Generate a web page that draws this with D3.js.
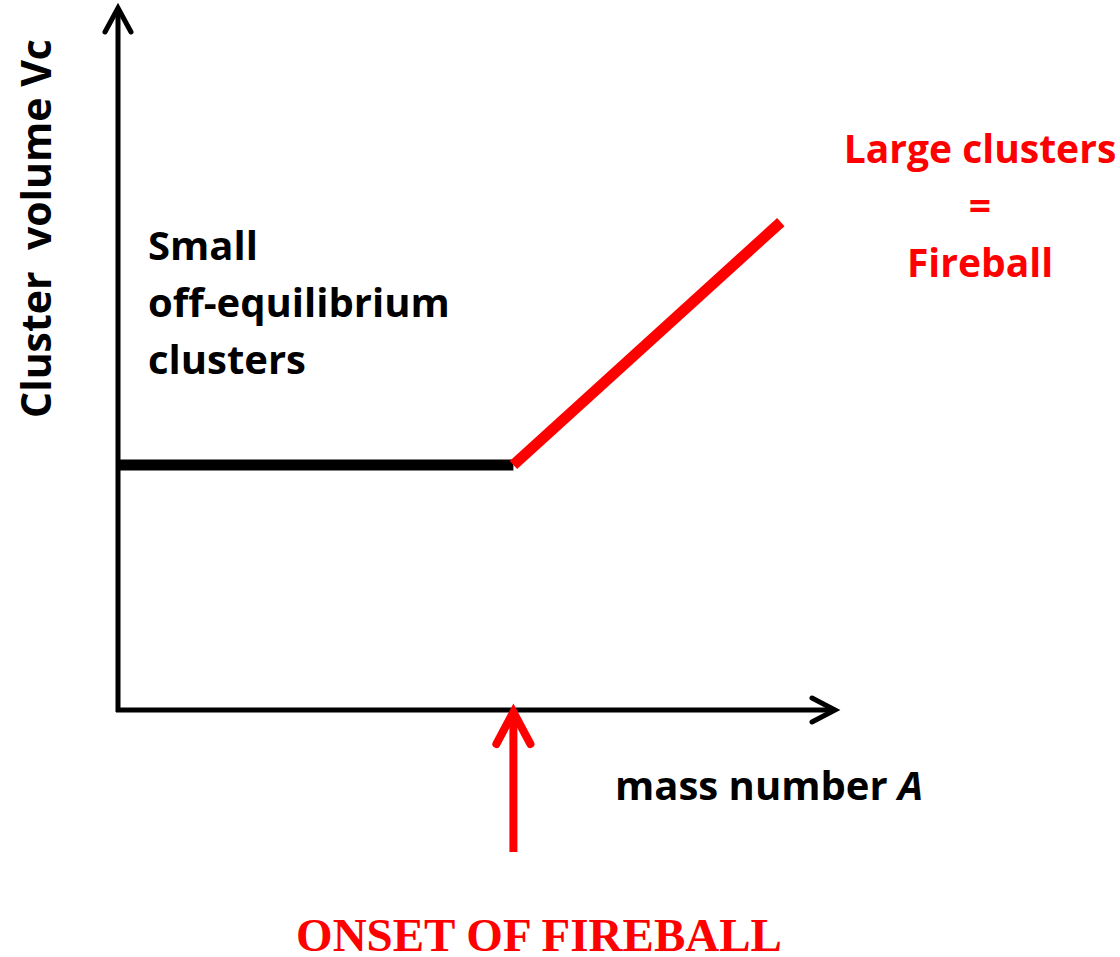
<!DOCTYPE html>
<html>
<head>
<meta charset="utf-8">
<script src="https://cdn.jsdelivr.net/npm/d3@7"></script>
<style>
  html, body { margin: 0; padding: 0; background: #fff; }
  .container { width: 1120px; height: 957px; }
  text { font-family: 'Open Sans', Lato, sans-serif; font-weight: bold; }
</style>
</head>
<body>
<div class="container"></div>
<script>
// schematic values (arbitrary units, 0..100 on both axes)
const xDomain = [0, 100]
const yDomain = [0, 100]
const smallClusters = [[0, 35], [55.3, 35]]
const largeClusters = [[55.3, 35], [92.7, 69.7]]
const onsetA = 55.3

const yLabel = 'Cluster  volume Vc'
const xLabel = ['mass number ', 'A']
const smallLabel = ['Small', 'off-equilibrium', 'clusters']
const largeLabel = ['Large clusters', '=', 'Fireball']
const onsetLabel = 'ONSET OF FIREBALL'

document.addEventListener('DOMContentLoaded', function () {
  const container = document.querySelector('.container')
  const width = 1120
  const height = 957

  const svg = d3
    .select(container)
    .append('svg')
    .attr('width', width)
    .attr('height', height)

  const x = d3.scaleLinear().domain(xDomain).range([118, 833])
  const y = d3.scaleLinear().domain(yDomain).range([710, 10])

  const line = d3
    .line()
    .x((d) => x(d[0]))
    .y((d) => y(d[1]))

  // axes with open arrowheads
  const x0 = x(xDomain[0])
  const y0 = y(yDomain[0])
  const xEnd = x(xDomain[1])
  const yEnd = y(yDomain[1])

  svg
    .append('path')
    .attr('d', `M${x0},${y0 + 2}V${yEnd - 1}`)
    .attr('stroke', '#000')
    .attr('stroke-width', 5)
    .attr('fill', 'none')
  svg
    .append('path')
    .attr('d', `M${x0 - 13},${yEnd + 22}L${x0},${yEnd - 2}L${x0 + 13},${yEnd + 22}`)
    .attr('stroke', '#000')
    .attr('stroke-width', 5)
    .attr('stroke-linecap', 'round')
    .attr('fill', 'none')

  svg
    .append('path')
    .attr('d', `M${x0 - 2},${y0}H${xEnd}`)
    .attr('stroke', '#000')
    .attr('stroke-width', 5)
    .attr('fill', 'none')
  svg
    .append('path')
    .attr('d', `M${xEnd - 21},${y0 - 12}L${xEnd + 2},${y0}L${xEnd - 21},${y0 + 12}`)
    .attr('stroke', '#000')
    .attr('stroke-width', 5)
    .attr('stroke-linecap', 'round')
    .attr('fill', 'none')

  // flat part and rising part
  svg
    .append('path')
    .datum(smallClusters)
    .attr('d', line)
    .attr('stroke', '#000')
    .attr('stroke-width', 11)
    .attr('fill', 'none')

  svg
    .append('path')
    .datum(largeClusters)
    .attr('d', line)
    .attr('stroke', '#ff0000')
    .attr('stroke-width', 11)
    .attr('fill', 'none')

  // onset arrow
  const ox = x(onsetA)
  svg
    .append('path')
    .attr('d', `M${ox},852V${y0 + 2}`)
    .attr('stroke', '#ff0000')
    .attr('stroke-width', 8)
    .attr('fill', 'none')
  svg
    .append('path')
    .attr('d', `M${ox - 17},${y0 + 34}L${ox},${y0 + 2}L${ox + 17},${y0 + 34}`)
    .attr('stroke', '#ff0000')
    .attr('stroke-width', 8)
    .attr('stroke-linecap', 'round')
    .attr('fill', 'none')

  // labels
  svg
    .append('text')
    .attr('transform', 'translate(51,418) rotate(-90)')
    .attr('font-size', '41px')
    .style('white-space', 'pre')
    .text(yLabel)

  const xl = svg
    .append('text')
    .attr('x', 615)
    .attr('y', 800)
    .attr('font-size', '40px')
  xl.append('tspan').text(xLabel[0])
  xl.append('tspan').attr('font-style', 'italic').text(xLabel[1])

  svg
    .selectAll('.small-label')
    .data(smallLabel)
    .enter()
    .append('text')
    .attr('class', 'small-label')
    .attr('x', 148)
    .attr('y', (d, i) => 260 + i * 57)
    .attr('font-size', '40px')
    .text((d) => d)

  svg
    .selectAll('.large-label')
    .data(largeLabel)
    .enter()
    .append('text')
    .attr('class', 'large-label')
    .attr('x', 980)
    .attr('y', (d, i) => 163 + i * 57)
    .attr('text-anchor', 'middle')
    .attr('font-size', '39px')
    .attr('fill', '#ff0000')
    .text((d) => d)

  svg
    .append('text')
    .attr('x', 539)
    .attr('y', 951)
    .attr('text-anchor', 'middle')
    .attr('font-size', '47px')
    .style('font-family', "'Liberation Serif', 'Times New Roman', serif")
    .attr('fill', '#ff0000')
    .text(onsetLabel)
})
</script>
</body>
</html>
